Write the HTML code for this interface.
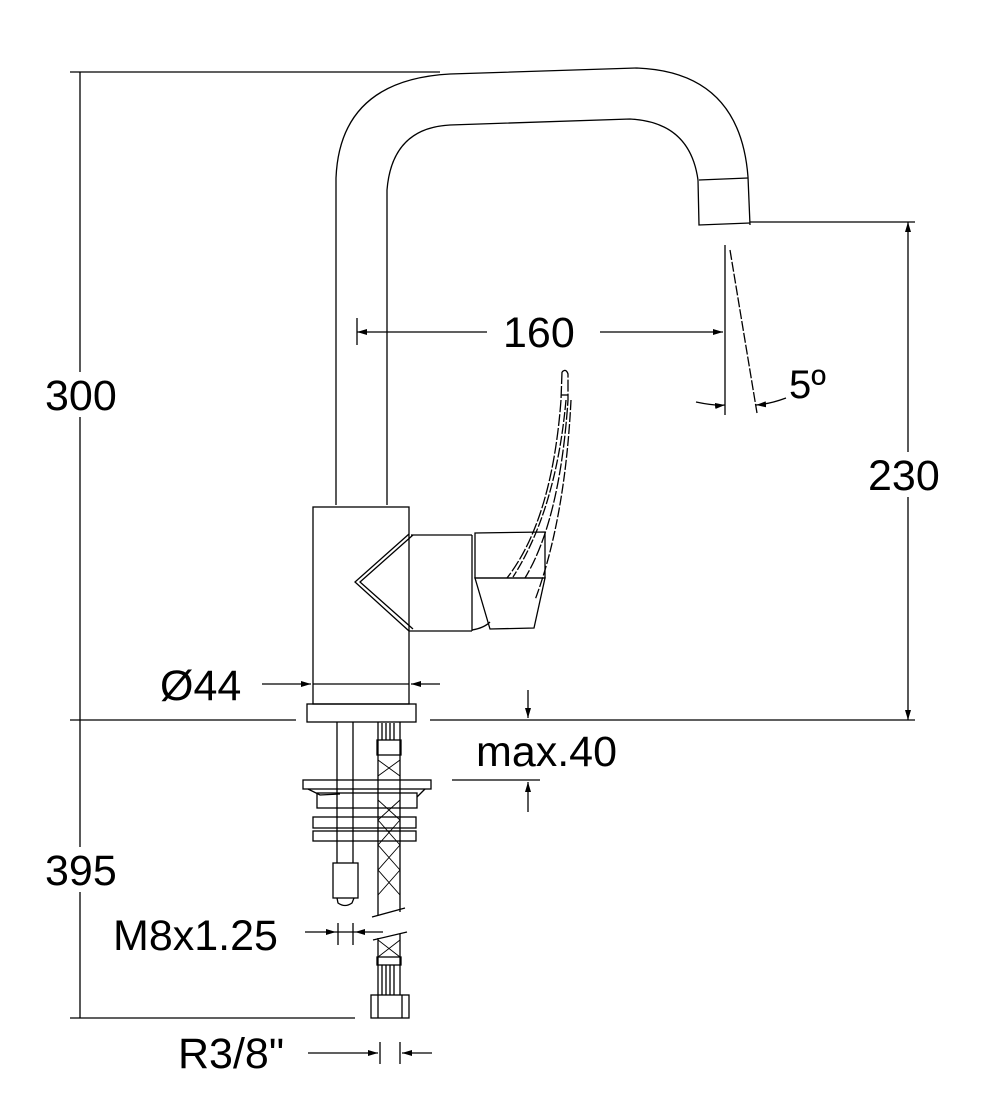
<!DOCTYPE html>
<html><head><meta charset="utf-8"><style>html,body{margin:0;padding:0;background:#fff}svg{display:block}</style></head>
<body>
<svg width="1000" height="1108" viewBox="0 0 1000 1108" xmlns="http://www.w3.org/2000/svg">
<defs>
<marker id="a" viewBox="0 0 10 6" refX="10" refY="3" markerWidth="10" markerHeight="6" orient="auto-start-reverse" markerUnits="userSpaceOnUse"><path d="M0,0 L10,3 L0,6 z" fill="#000"/></marker>
</defs>
<g fill="none" stroke="#000" stroke-width="1.3">
<line x1="70" y1="72" x2="440" y2="72"/>
<line x1="80" y1="72" x2="80" y2="1018"/>
<line x1="70" y1="720" x2="296" y2="720"/>
<line x1="430" y1="720" x2="915" y2="720"/>
<line x1="70" y1="1018" x2="355" y2="1018"/>
<path d="M336,505 L336,178 Q340,80 450,74 L637,68 Q740,72 748,177 L750,225"/>
<path d="M387,505 L387,190 Q392,128 450,125 L630,119 Q690,122 698,180 L699,225 L750,223"/>
<line x1="699" y1="180" x2="748" y2="178"/>
<line x1="750" y1="222" x2="915" y2="222"/>
<line x1="908" y1="222" x2="908" y2="720" marker-start="url(#a)" marker-end="url(#a)"/>
<line x1="357" y1="318" x2="357" y2="345"/>
<line x1="357" y1="332" x2="487" y2="332" marker-start="url(#a)"/>
<line x1="600" y1="332" x2="723" y2="332" marker-end="url(#a)"/>
<line x1="725" y1="245" x2="725" y2="415"/>
<line x1="730" y1="250" x2="757" y2="413" stroke-dasharray="10,2"/>
<path d="M696,402 Q715,406 725,405" marker-end="url(#a)"/>
<path d="M786,398 Q770,404 756,405" marker-end="url(#a)"/>
<rect x="313" y="507" width="96" height="197"/>
<rect x="307" y="704" width="109" height="18"/>
<path d="M409,534 L355,582 L409,631"/>
<path d="M413,535 L360,582 L413,629"/>
<line x1="411" y1="535" x2="472" y2="535"/>
<line x1="409" y1="631" x2="472" y2="631"/>
<line x1="472" y1="535" x2="472" y2="631"/>
<path d="M475,533 L545,532 L545,578 L475,578 Z"/>
<path d="M475,578 L545,578 L534,628 L490,629 Z"/>
<path d="M472,630 Q484,628 490,622"/>
<path d="M562,372 Q566,368 568,374 L568,400 Q560,520 525,578" stroke-dasharray="12,2"/>
<path d="M562,372 L561,400 Q552,520 507,578" stroke-dasharray="12,2"/>
<path d="M566,400 Q556,510 513,577" stroke-dasharray="10,2"/>
<path d="M571,400 Q565,520 535,600" stroke-dasharray="10,2"/>
<line x1="561" y1="395" x2="568" y2="395"/>
<line x1="262" y1="684" x2="311" y2="684" marker-end="url(#a)"/>
<line x1="440" y1="684" x2="411" y2="684" marker-end="url(#a)"/>
<line x1="313" y1="684" x2="409" y2="684"/>
<line x1="528" y1="690" x2="528" y2="718" marker-end="url(#a)"/>
<line x1="528" y1="812" x2="528" y2="782" marker-end="url(#a)"/>
<line x1="452" y1="780" x2="540" y2="780"/>
<line x1="337" y1="722" x2="337" y2="863"/>
<line x1="353" y1="722" x2="353" y2="863"/>
<rect x="333" y="863" width="25" height="35"/>
<path d="M337,898 L338,903 Q345,908 352,903 L354,898"/>
<line x1="378" y1="722" x2="378" y2="915"/>
<line x1="400" y1="722" x2="400" y2="912"/>
<rect x="377" y="740" width="24" height="15"/>
<path d="M382,723 V740 M386,723 V740 M390,723 V740 M394,723 V740"/>
<path d="M378,760 L400,776 M400,760 L378,776 M378,800 L400,820 M400,800 L378,820 M378,820 L400,845 M400,820 L378,845 M378,845 L400,870 M400,845 L378,870 M378,870 L400,895 M400,870 L378,895" stroke-width="0.9"/>
<line x1="372" y1="917" x2="405" y2="908"/>
<line x1="373" y1="940" x2="407" y2="932"/>
<line x1="378" y1="938" x2="378" y2="995"/>
<line x1="400" y1="934" x2="400" y2="995"/>
<path d="M378,940 L400,957 M400,940 L378,957" stroke-width="0.9"/>
<rect x="377" y="957" width="24" height="8"/>
<path d="M382,965 V995 M386,965 V995 M390,965 V995 M394,965 V995"/>
<rect x="371" y="995" width="38" height="23"/>
<line x1="378" y1="995" x2="378" y2="1018"/><line x1="402" y1="995" x2="402" y2="1018"/>
<rect x="303" y="780" width="128" height="9"/>
<path d="M308,789 L320,795 L340,794 M425,789 L417,797"/>
<rect x="317" y="793" width="100" height="15"/>
<rect x="313" y="817" width="103" height="11"/>
<rect x="313" y="831" width="103" height="10"/>
<line x1="305" y1="932" x2="336" y2="932" marker-end="url(#a)"/>
<line x1="383" y1="932" x2="355" y2="932" marker-end="url(#a)"/>
<line x1="338" y1="923" x2="338" y2="945"/><line x1="353" y1="923" x2="353" y2="945"/>
<line x1="336" y1="932" x2="355" y2="932"/>
<line x1="308" y1="1053" x2="378" y2="1053" marker-end="url(#a)"/>
<line x1="432" y1="1053" x2="402" y2="1053" marker-end="url(#a)"/>
<line x1="380" y1="1042" x2="380" y2="1064"/><line x1="400" y1="1042" x2="400" y2="1064"/>
</g>
<g fill="#fff">
<rect x="40" y="372" width="82" height="45"/>
<rect x="40" y="847" width="82" height="45"/>
<rect x="864" y="452" width="82" height="45"/>
</g>
<g font-family="Liberation Sans, Arial, sans-serif" font-size="43" fill="#000">
<text x="45" y="410">300</text>
<text x="503" y="347">160</text>
<text x="789" y="398" font-size="40">5º</text>
<text x="868" y="490">230</text>
<text x="160" y="700">Ø44</text>
<text x="476" y="766">max.40</text>
<text x="45" y="885">395</text>
<text x="113" y="950">M8x1.25</text>
<text x="178" y="1068">R3/8"</text>
</g>
</svg>
</body></html>
